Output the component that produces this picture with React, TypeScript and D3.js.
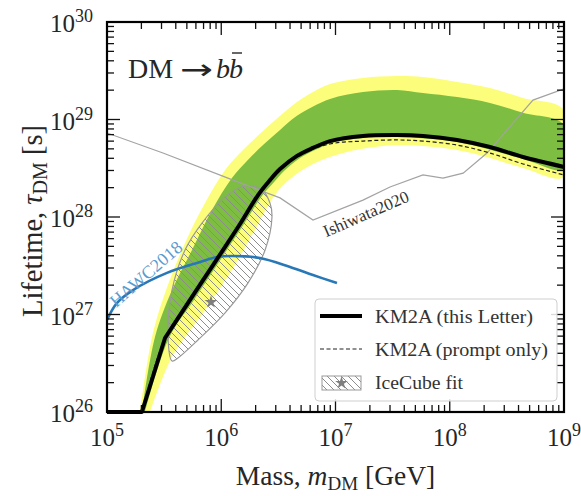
import React from 'react';
import * as d3 from 'd3';

const W = 581;
const H = 496;
const PL = 107, PR = 564, PT = 22, PB = 412;

// KM2A (this Letter)
const kmMass = [1e5, 2.02e5, 3.22e5, 5.33e5, 8.82e5, 1.46e6, 2.1e6, 2.67e6, 3.27e6, 4.6e6, 6.35e6, 8.95e6, 1.74e7, 3.45e7, 5.83e7, 1.16e8, 2.25e8, 4.38e8, 1e9];
const kmTau = [1e26, 1e26, 5.74e26, 1.41e27, 3.45e27, 8.47e27, 1.68e28, 2.39e28, 3.1e28, 4.23e28, 5.11e28, 6.01e28, 6.78e28, 6.93e28, 6.78e28, 6.17e28, 5.22e28, 4.12e28, 3.26e28];

// KM2A (prompt only)
const promptMass = [2.02e5, 3.22e5, 5.33e5, 8.82e5, 1.46e6, 2.1e6, 2.67e6, 3.27e6, 4.6e6, 8.95e6, 1.74e7, 3.45e7, 5.83e7, 1.16e8, 2.25e8, 4.38e8, 1e9];
const promptTau = [1e26, 5.74e26, 1.41e27, 3.45e27, 8.47e27, 1.68e28, 2.39e28, 3.1e28, 4.23e28, 5.61e28, 6.01e28, 6.17e28, 6.01e28, 5.47e28, 4.53e28, 3.5e28, 2.7e28];

// 68% band (green)
const greenUpMass = [2.02e5, 2.63e5, 3.71e5, 5.55e5, 8.3e5, 1.24e6, 1.71e6, 2.32e6, 3.27e6, 4.6e6, 8.95e6, 1.74e7, 3.45e7, 5.83e7, 1.16e8, 2.25e8, 4.38e8, 1e9];
const greenUpTau = [1e26, 5.87e26, 1.78e27, 4.59e27, 1.18e28, 2.51e28, 3.85e28, 5.47e28, 7.8e28, 1.09e29, 1.62e29, 1.91e29, 2.01e29, 1.87e29, 1.7e29, 1.48e29, 1.17e29, 8.79e28];
const greenLoMass = [2.15e5, 3.49e5, 5.77e5, 9.56e5, 1.58e6, 2.27e6, 2.9e6, 3.54e6, 4.89e6, 6.62e6, 9.32e6, 1.74e7, 3.45e7, 1.16e8, 4.38e8, 1e9];
const greenLoTau = [1e26, 5.74e26, 1.41e27, 3.45e27, 8.47e27, 1.64e28, 2.28e28, 2.96e28, 4.03e28, 4.86e28, 5.74e28, 6.46e28, 6.62e28, 5.88e28, 3.94e28, 3.1e28];

// 95% band (yellow)
const yellowUpMass = [1.94e5, 2.48e5, 3.22e5, 4.82e5, 7.21e5, 1.08e6, 1.55e6, 2.32e6, 3.27e6, 4.6e6, 6.35e6, 8.95e6, 1.74e7, 3.45e7, 5.83e7, 1.16e8, 2.25e8, 4.38e8, 1e9];
const yellowUpTau = [1e26, 5.87e26, 1.66e27, 5.41e27, 1.39e28, 3.03e28, 4.86e28, 7.62e28, 1.09e29, 1.51e29, 1.91e29, 2.31e29, 2.67e29, 2.79e29, 2.73e29, 2.43e29, 2.1e29, 1.66e29, 1.25e29];
const yellowLoMass = [2.38e5, 3.71e5, 7.21e5, 1.24e6, 1.97e6, 2.95e6, 4.0e6, 6.35e6, 1.26e7, 3.45e7, 5.83e7, 1.16e8, 2.25e8, 4.38e8, 1e9];
const yellowLoTau = [1e26, 3.66e26, 1.11e27, 2.86e27, 7.36e27, 1.68e28, 2.45e28, 3.5e28, 4.65e28, 5.47e28, 5.35e28, 4.86e28, 4.03e28, 3.18e28, 2.57e28];

// HAWC2018
const hawcMass = [1e5, 1.22e5, 1.69e5, 3.35e5, 6.52e5, 9.18e5, 1.27e6, 2.18e6, 4.0e6, 6.35e6, 1.03e7];
const hawcTau = [8.79e26, 1.31e27, 1.78e27, 2.67e27, 3.45e27, 3.89e27, 3.98e27, 3.8e27, 3.07e27, 2.54e27, 2.1e27];

// Ishiwata2020
const ishMass = [1e5, 3.09e5, 1.27e6, 3.27e6, 6.35e6, 1.74e7, 3.0e7, 5.83e7, 8.73e7, 1.31e8, 2.12e8, 3.17e8, 5.35e8, 1e9];
const ishTau = [7.28e28, 4.53e28, 2.39e28, 1.57e28, 9.31e27, 1.49e28, 2.03e28, 2.7e28, 2.51e28, 2.82e28, 4.53e28, 7.8e28, 1.58e29, 2.06e29];

// IceCube fit contour and best fit
const iceMass = [3.71e5, 3.42e5, 3.71e5, 4.82e5, 6.78e5, 1.08e6, 1.61e6, 2.27e6, 2.67e6, 2.78e6, 2.42e6, 1.71e6, 1.08e6, 6.25e5, 4.18e5];
const iceTau = [3.33e26, 5.87e26, 1.78e27, 4.59e27, 8.67e27, 1.6e28, 2.08e28, 1.89e28, 1.39e28, 1.0e28, 4.59e27, 2.1e27, 1.04e27, 5.47e26, 3.58e26];
const iceStar = [8.13e5, 1.34e27];

const xTickExp = [5, 6, 7, 8, 9];
const yTickExp = [26, 27, 28, 29, 30];
const legendLabels = ['KM2A (this Letter)', 'KM2A (prompt only)', 'IceCube fit'];
const legendWidths = [158, 173, 88];

const FONT = "'Liberation Serif', 'DejaVu Serif', serif";
const TXT = '#262626';

export default function App() {
  const x = d3.scaleLog().domain([1e5, 1e9]).range([PL, PR]);
  const y = d3.scaleLog().domain([1e26, 1e30]).range([PB, PT]);
  const zip = (a: number[], b: number[]) => a.map((v, i) => [v, b[i]] as [number, number]);

  const cr = d3.line<[number, number]>().x(d => x(d[0])).y(d => y(d[1])).curve(d3.curveCatmullRom.alpha(0.5));
  const lin = d3.line<[number, number]>().x(d => x(d[0])).y(d => y(d[1]));
  const closed = d3.line<[number, number]>().x(d => x(d[0])).y(d => y(d[1])).curve(d3.curveCatmullRomClosed.alpha(0.5));

  const band = (um: number[], ut: number[], lm: number[], lt: number[]) =>
    cr([...zip(um, ut), ...zip(lm, lt).reverse()]) + 'Z';

  const yellowPath = band(yellowUpMass, yellowUpTau, yellowLoMass, yellowLoTau);
  const greenPath = band(greenUpMass, greenUpTau, greenLoMass, greenLoTau);
  const kmPath = lin(zip(kmMass.slice(0, 3), kmTau.slice(0, 3))) + (cr(zip(kmMass.slice(2), kmTau.slice(2))) || '').replace(/^M/, 'L');
  const promptPath = cr(zip(promptMass, promptTau));
  const hawcPath = cr(zip(hawcMass, hawcTau));
  const ishPath = lin(zip(ishMass, ishTau));
  const icePath = closed(zip(iceMass, iceTau));
  const star = d3.symbol(d3.symbolStar, 50)() || '';

  const xMinor: number[] = [];
  const yMinor: number[] = [];
  for (let e = 5; e < 9; e++) for (let j = 2; j <= 9; j++) xMinor.push(j * Math.pow(10, e));
  for (let e = 26; e < 30; e++) for (let j = 2; j <= 9; j++) yMinor.push(j * Math.pow(10, e));

  const MAJ = 13, MIN = 7;
  const tickStroke = { stroke: '#111', strokeWidth: 1.3 };

  return (
    <svg width={W} height={H} style={{ position: 'absolute', left: 0, top: 0, background: '#fff' }} fontFamily={FONT}>
      <defs>
        <clipPath id="plotclip">
          <rect x={PL} y={PT} width={PR - PL} height={PB - PT} />
        </clipPath>
        <pattern id="hatch" patternUnits="userSpaceOnUse" width={7} height={7}>
          <path d="M0,0 L7,7 M-1,6 L1,8 M6,-1 L8,1" stroke="#8c8c8c" strokeWidth={1} />
        </pattern>
      </defs>

      <g clipPath="url(#plotclip)">
        <path d={yellowPath} fill="#fdfd7c" stroke="none" />
        <path d={greenPath} fill="#7dbd41" stroke="none" />
        <path d={icePath} fill="url(#hatch)" stroke="#999" strokeWidth={1.2} />
        <path d={ishPath} fill="none" stroke="#a3a3a3" strokeWidth={1.2} />
        <path d={hawcPath} fill="none" stroke="#2878b8" strokeWidth={2.6} />
        <path d={promptPath} fill="none" stroke="#222" strokeWidth={1.2} strokeDasharray="4,2.5" />
        <path transform={`translate(${x(iceStar[0])},${y(iceStar[1])})`} d={star} fill="#7f7f7f" />
      </g>
      <path d={kmPath} fill="none" stroke="#000" strokeWidth={4} strokeLinejoin="round" />

      {/* curve labels */}
      <text transform={`translate(146,274) rotate(-41)`} textAnchor="middle" dominantBaseline="central" fontSize={18} fill="#5b9bd0">HAWC2018</text>
      <text transform={`translate(366,214) rotate(-23.5)`} textAnchor="middle" dominantBaseline="central" fontSize={17} fill="#333">Ishiwata2020</text>

      {/* title */}
      <text x={128} y={78} fontSize={28} fill={TXT}>DM</text>
      <text x={180} y={79} fontSize={28} fill={TXT} fontFamily="'DejaVu Sans', sans-serif" textLength={33} lengthAdjust="spacingAndGlyphs">→</text>
      <text x={216} y={78} fontSize={28} fill={TXT} fontStyle="italic">b</text>
      <text x={229} y={78} fontSize={28} fill={TXT} fontStyle="italic">b</text>
      <line x1={232} x2={242} y1={53} y2={53} stroke={TXT} strokeWidth={1.4} />

      {/* ticks */}
      {xTickExp.map(e => {
        const px = x(Math.pow(10, e));
        return (
          <g key={'xm' + e}>
            <line x1={px} x2={px} y1={PB} y2={PB - MAJ} {...tickStroke} />
            <line x1={px} x2={px} y1={PT} y2={PT + MAJ} {...tickStroke} />
          </g>
        );
      })}
      {xMinor.map((v, i) => {
        const px = x(v);
        return (
          <g key={'xn' + i}>
            <line x1={px} x2={px} y1={PB} y2={PB - MIN} {...tickStroke} />
            <line x1={px} x2={px} y1={PT} y2={PT + MIN} {...tickStroke} />
          </g>
        );
      })}
      {yTickExp.map(e => {
        const py = y(Math.pow(10, e));
        return (
          <g key={'ym' + e}>
            <line x1={PL} x2={PL + MAJ} y1={py} y2={py} {...tickStroke} />
            <line x1={PR} x2={PR - MAJ} y1={py} y2={py} {...tickStroke} />
          </g>
        );
      })}
      {yMinor.map((v, i) => {
        const py = y(v);
        return (
          <g key={'yn' + i}>
            <line x1={PL} x2={PL + MIN} y1={py} y2={py} {...tickStroke} />
            <line x1={PR} x2={PR - MIN} y1={py} y2={py} {...tickStroke} />
          </g>
        );
      })}

      <rect x={PL} y={PT} width={PR - PL} height={PB - PT} fill="none" stroke="#000" strokeWidth={2.2} />

      {/* tick labels */}
      {xTickExp.map(e => (
        <text key={'xl' + e} x={x(Math.pow(10, e))} y={446} textAnchor="middle" fontSize={25} fill={TXT}>
          10<tspan fontSize={18} dy={-10}>{e}</tspan>
        </text>
      ))}
      {yTickExp.map(e => (
        <text key={'yl' + e} x={93} y={y(Math.pow(10, e)) + 10} textAnchor="end" fontSize={25} fill={TXT}>
          10<tspan fontSize={18} dy={-10}>{e}</tspan>
        </text>
      ))}

      {/* axis labels */}
      <text x={(PL + PR) / 2} y={485} textAnchor="middle" fontSize={27.5} fill={TXT}>
        Mass, <tspan fontStyle="italic">m</tspan><tspan fontSize={19} dy={5}>DM</tspan><tspan dy={-5}>{' [GeV]'}</tspan>
      </text>
      <text transform="translate(42,221) rotate(-90)" textAnchor="middle" fontSize={28.5} fill={TXT}>
        Lifetime, <tspan fontStyle="italic">τ</tspan><tspan fontSize={20} dy={5}>DM</tspan><tspan dy={-5}>{' [s]'}</tspan>
      </text>

      {/* legend */}
      <g>
        <rect x={315} y={299} width={242} height={102} rx={4} fill="#fff" fillOpacity={0.85} stroke="#cfcfcf" strokeWidth={1} />
        <line x1={320} x2={362} y1={316} y2={316} stroke="#000" strokeWidth={4} />
        <line x1={320} x2={362} y1={349} y2={349} stroke="#222" strokeWidth={1.2} strokeDasharray="4,2.5" />
        <rect x={322} y={376} width={39} height={14} fill="url(#hatch)" stroke="#999" strokeWidth={1} />
        <path transform="translate(341.5,383)" d={star} fill="#7f7f7f" />
        {legendLabels.map((l, i) => (
          <text key={l} x={375} y={323 + i * 33} fontSize={19} fill="#333" textLength={legendWidths[i]} lengthAdjust="spacingAndGlyphs">{l}</text>
        ))}
      </g>
    </svg>
  );
}
